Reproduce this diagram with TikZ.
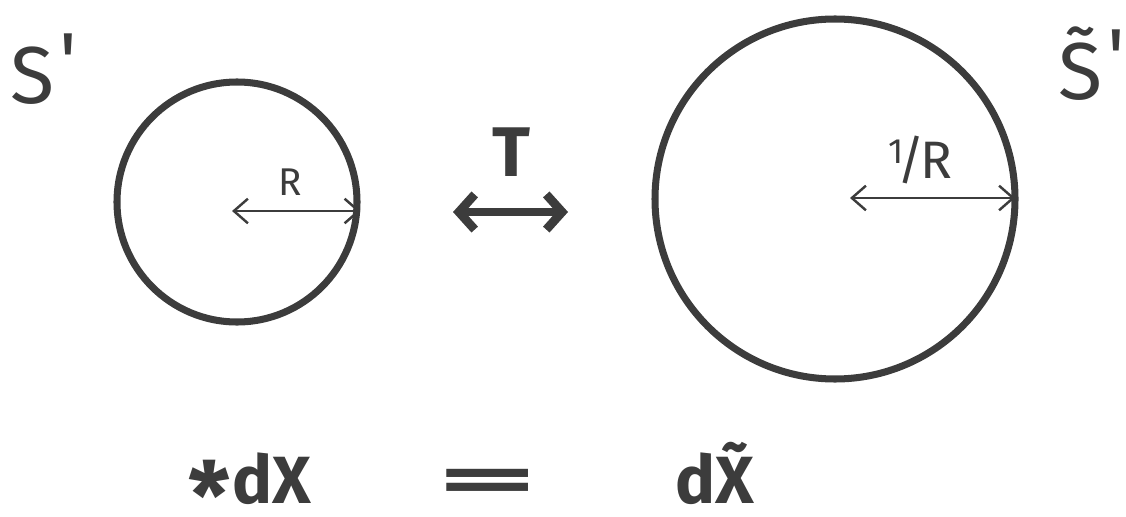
\documentclass[tikz,border=0pt]{standalone}
\usepackage{amsmath}
\usepackage{fontspec}
\setmainfont{Fira Sans}
\usepackage{xcolor}
\usetikzlibrary{arrows.meta,positioning}
\definecolor{pen}{HTML}{3C3C3C}

\begin{document}
\begin{tikzpicture}[x=0.02cm, y=-0.02cm,
  ink/.style={draw=pen, line width=4pt},
  radius arrow/.style={draw=pen, line width=1.4pt, {Straight Barb[length=8pt,width=14pt]}-{Straight Barb[length=8pt,width=14pt]}},
  dual arrow/.style={draw=pen, line width=5pt, line cap=round, {Straight Barb[length=9pt,width=20pt]}-{Straight Barb[length=9pt,width=20pt]}},
  label/.style={text=pen, inner sep=0pt},
  big/.style={label, font=\fontsize{46}{50}\selectfont},
  formula/.style={label, anchor=base, font=\bfseries\fontsize{38}{42}\selectfont}
]
\useasboundingbox (0,0) rectangle (1126,517);
% the two circles
\node[ink, circle, minimum size=240*0.02cm, inner sep=0pt] (small) at (237,202) {};
\node[ink, circle, minimum size=360*0.02cm, inner sep=0pt] (large) at (835,199) {};
% radii
\coordinate (c1) at (232,211);
\coordinate (c2) at (850,198);
\draw[radius arrow] (c1) -- (small.east |- c1);
\draw[radius arrow] (c2) -- ([xshift=-2pt]large.east |- c2);
\node[label, font=\fontsize{22}{24}\selectfont] (rsmall) at (290,182) {R};
\node[label, font=\fontsize{30}{32}\selectfont] (rlarge) at (920,160) {\raisebox{0.55ex}{\fontsize{20}{20}\selectfont 1}\kern-3pt/\kern-3pt R};
% names of the spaces
\node[big, anchor=base west] (s1) at (10,104) {S\kern3pt\raisebox{0.35ex}{\textquotesingle}};
\node[big, anchor=base west] (s2) at (1058,100) {\~{S}\kern3pt\raisebox{0.35ex}{\textquotesingle}};
% T duality
\node[label, font=\bfseries\fontsize{40}{44}\selectfont] (tdual) at (511,152) {T};
\coordinate (tl) at (453,212);
\coordinate (tr) at (568,212);
\draw[dual arrow] (tl) -- (tr);
% bottom relation
\node[formula] (lhs) at (250,503) {\raisebox{-0.75ex}{\scalebox{1.4}{*}}\kern1pt dX};
\node[formula, xscale=2.9] (eq) at (488,502) {=};
\node[formula] (rhs) at (715,503) {d\~{X}};
\end{tikzpicture}
\end{document}
